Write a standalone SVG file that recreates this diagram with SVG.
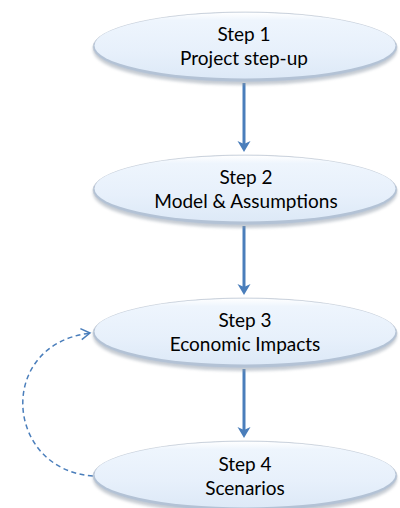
<svg xmlns="http://www.w3.org/2000/svg" width="400" height="508" viewBox="0 0 400 508">
  <defs>
    <linearGradient id="faceFill" x1="0" y1="0" x2="0" y2="1">
      <stop offset="0" stop-color="#ffffff"/>
      <stop offset="0.12" stop-color="#eef5fd"/>
      <stop offset="0.6" stop-color="#e7f0fb"/>
      <stop offset="1" stop-color="#dde9f7"/>
    </linearGradient>
    <filter id="softShadow" x="-10%" y="-30%" width="120%" height="160%">
      <feGaussianBlur stdDeviation="1.8"/>
    </filter>
    <!-- filled notched head, drawn pointing along +x; tip sits 7px past the line end -->
    <marker id="solidHead" markerUnits="userSpaceOnUse" markerWidth="16" markerHeight="16" viewBox="-13 -8 16 16" refX="-7" refY="0" orient="auto">
      <path d="M -11 -6.5 L -8 0 L -11 6.5 L 0 0 Z" fill="#4a7ebb"/>
    </marker>
    <!-- open chevron head -->
    <marker id="openHead" markerUnits="userSpaceOnUse" markerWidth="14" markerHeight="14" viewBox="-12 -7 14 14" refX="0" refY="0" orient="auto">
      <path d="M -9 -5.5 L 0 0 L -9 5.5" fill="none" stroke="#4a7ebb" stroke-width="1.5"/>
    </marker>
  </defs>
  <style>
    .shadow { fill: #8e9aa8; opacity: 0.5; filter: url(#softShadow); }
    .bevel { fill: #b3c2d5; stroke: #c4ccd6; stroke-width: 0.7; }
    .face { fill: url(#faceFill); }
    .label { font-family: Lato, "Liberation Sans", sans-serif; font-size: 19px; fill: #000; text-anchor: middle; }
    .flow { stroke: #4a7ebb; stroke-width: 3; fill: none; marker-end: url(#solidHead); }
    .loop { stroke: #4a7ebb; stroke-width: 1.5; fill: none; stroke-dasharray: 5 3.5; marker-end: url(#openHead); }
  </style>

  <!-- connectors -->
  <g id="connectors">
    <line class="flow" x1="244" y1="83" x2="244" y2="145"/>
    <line class="flow" x1="244" y1="226" x2="244" y2="288"/>
    <line class="flow" x1="244" y1="369" x2="244" y2="431"/>
    <path class="loop" d="M 93 476 C 5 470, -5 345, 90 333"/>
  </g>

  <g id="step1">
    <ellipse class="shadow" cx="245" cy="50" rx="152" ry="35"/>
    <ellipse class="bevel" cx="245" cy="47" rx="152" ry="35"/>
    <ellipse class="face" cx="245" cy="45.5" rx="150.5" ry="33"/>
    <text class="label" x="244" y="41">Step 1</text>
    <text class="label" x="244" y="65">Project step-up</text>
  </g>

  <g id="step2">
    <ellipse class="shadow" cx="245" cy="193" rx="152" ry="35"/>
    <ellipse class="bevel" cx="245" cy="190" rx="152" ry="35"/>
    <ellipse class="face" cx="245" cy="188.5" rx="150.5" ry="33"/>
    <text class="label" x="246" y="184">Step 2</text>
    <text class="label" x="246" y="208">Model &amp; Assumptions</text>
  </g>

  <g id="step3">
    <ellipse class="shadow" cx="245" cy="336" rx="152" ry="35"/>
    <ellipse class="bevel" cx="245" cy="333" rx="152" ry="35"/>
    <ellipse class="face" cx="245" cy="331.5" rx="150.5" ry="33"/>
    <text class="label" x="245" y="327">Step 3</text>
    <text class="label" x="245" y="351">Economic Impacts</text>
  </g>

  <g id="step4">
    <ellipse class="shadow" cx="245" cy="479" rx="152" ry="35"/>
    <ellipse class="bevel" cx="245" cy="476" rx="152" ry="35"/>
    <ellipse class="face" cx="245" cy="474.5" rx="150.5" ry="33"/>
    <text class="label" x="245" y="471">Step 4</text>
    <text class="label" x="245" y="495">Scenarios</text>
  </g>
</svg>
